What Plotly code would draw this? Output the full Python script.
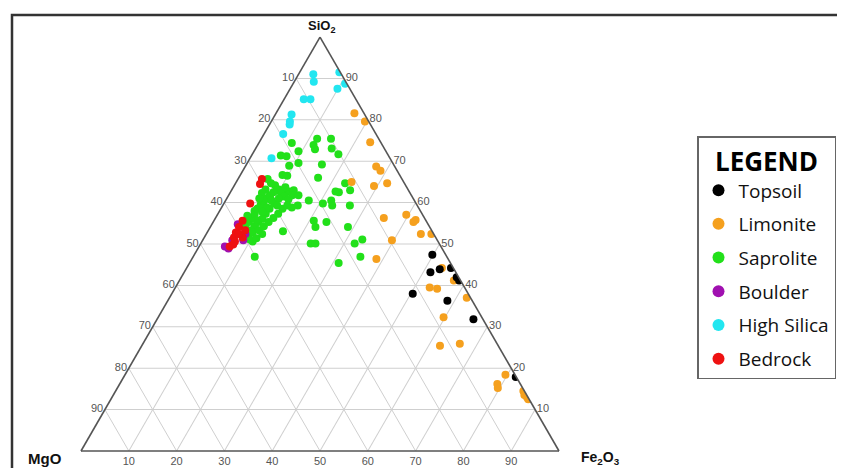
import plotly.graph_objects as go

# ---------------- data (weight %) ----------------
topsoil_sio2 = [47.4, 43.2, 43.9, 44.2, 42.0, 41.2, 38.0, 36.3, 31.8, 17.9]
topsoil_fe2o3 = [49.8, 51.5, 53.1, 55.3, 57.6, 58.5, 50.4, 58.5, 66.2, 82.0]

limonite_sio2 = [81.6, 79.6, 74.6, 68.7, 67.7, 64.0, 64.7, 65.0, 56.3, 57.1, 55.3, 55.8,
                 52.4, 52.4, 50.9, 46.4, 44.2, 41.2, 39.5, 39.2, 37.0, 32.3, 25.4, 25.9,
                 18.4, 16.2, 15.2, 14.5, 13.5, 13.0, 12.5]
limonite_fe2o3 = [16.4, 19.6, 23.2, 27.4, 28.8, 29.3, 31.7, 24.1, 35.2, 39.5, 41.9, 42.1,
                  44.9, 47.1, 39.6, 38.6, 53.4, 57.4, 53.2, 54.9, 62.2, 59.7, 62.4, 66.3,
                  79.6, 79.0, 79.6, 85.3, 86.0, 86.8, 87.3]

saprolite_sio2 = [75.4, 75.4, 74.4, 73.9, 73.1, 72.9, 72.4, 71.7, 71.4, 71.2, 69.6, 69.2,
                  68.9, 66.7, 66.5, 66.0, 64.7, 64.2, 63.2, 63.0, 62.7, 63.0, 62.7, 62.5,
                  63.0, 61.0, 61.8, 61.8, 60.5, 60.5, 59.8, 59.3, 59.3, 59.8, 58.0, 53.1,
                  55.6, 55.3, 54.1, 54.1, 50.1, 50.1, 50.1, 51.1, 46.9, 45.4, 50.6, 46.9,
                  54.3, 55.3, 56.3, 57.3, 58.5, 59.3, 60.3, 61.0, 61.8, 62.5, 63.0, 62.3,
                  61.5, 60.8, 59.8, 58.5, 57.3, 56.1, 55.3, 54.3, 53.3, 52.4, 52.8, 53.3,
                  54.3, 55.3, 56.3, 57.3, 58.5, 59.3, 58.8, 59.3, 51.1, 51.4, 52.4, 58.8,
                  60.5, 61.0, 63.7, 63.2, 62.3, 61.0, 64.7, 65.7, 56.8, 55.3, 55.8, 57.8,
                  59.3]
saprolite_fe2o3 = [11.7, 14.6, 6.9, 11.7, 15.9, 12.5, 9.3, 18.0, 6.1, 7.4, 10.7, 15.8,
                   9.1, 8.8, 9.9, 16.6, 22.9, 8.5, 9.8, 10.9, 12.2, 13.0, 21.9, 22.7,
                   24.8, 9.1, 13.3, 14.6, 17.4, 22.1, 20.7, 22.9, 26.6, 7.8, 7.3, 15.7,
                   20.9, 23.7, 22.0, 28.8, 23.0, 24.0, 32.2, 33.3, 35.0, 31.2, 10.6, 12.9,
                   7.2, 7.5, 7.6, 7.7, 7.6, 7.9, 8.1, 8.3, 8.6, 9.0, 9.5, 10.7,
                   11.8, 13.0, 10.5, 10.2, 10.0, 9.9, 9.4, 9.2, 8.9, 8.8, 9.5, 10.6,
                   11.1, 11.6, 12.1, 12.6, 12.9, 13.5, 14.7, 15.7, 9.8, 11.0, 11.7, 9.5,
                   9.6, 10.9, 10.9, 7.0, 6.7, 6.8, 7.4, 6.2, 6.4, 6.3, 8.8, 9.0,
                   11.4]

boulder_sio2 = [49.4, 48.9, 54.8, 52.4, 50.9, 50.9]
boulder_fe2o3 = [5.4, 6.4, 5.4, 8.2, 8.5, 6.2]

highsilica_sio2 = [91.0, 89.2, 91.5, 88.7, 87.5, 85.0, 85.0, 81.3, 79.6, 78.9, 76.6, 70.7]
highsilica_fe2o3 = [3.1, 4.1, 8.3, 10.9, 9.9, 4.1, 5.5, 3.4, 3.9, 4.2, 4.0, 4.5]

bedrock_sio2 = [65.7, 64.5, 59.8, 55.6, 54.1, 52.8, 51.6, 49.9, 49.4, 51.6, 52.4, 50.6, 53.3]
bedrock_fe2o3 = [5.0, 5.2, 5.5, 6.0, 6.0, 6.0, 6.2, 6.9, 6.4, 8.0, 6.8, 6.9, 7.7]

tick_values = [10, 20, 30, 40, 50, 60, 70, 80, 90]
tick_labels = ["90", "80", "70", "60", "50", "40", "30", "20", "10"]

# (name, sio2, fe2o3, colour, legend rank) in drawing order
series = [
    ("Saprolite", saprolite_sio2, saprolite_fe2o3, "#22E01A", 3),
    ("Limonite", limonite_sio2, limonite_fe2o3, "#F5A01E", 2),
    ("Topsoil", topsoil_sio2, topsoil_fe2o3, "#000000", 1),
    ("High Silica", highsilica_sio2, highsilica_fe2o3, "#22E6F0", 5),
    ("Boulder", boulder_sio2, boulder_fe2o3, "#A010B0", 4),
    ("Bedrock", bedrock_sio2, bedrock_fe2o3, "#EE1111", 6),
]

fig = go.Figure()
for name, si, fe, col, rank in series:
    mg = [max(0.0, 100.0 - s - f) for s, f in zip(si, fe)]
    fig.add_trace(go.Scatterternary(
        a=si, b=mg, c=fe, mode="markers", name=name,
        legendrank=rank, legendgroup=name,
        marker=dict(size=8, color=col, line=dict(width=0)),
    ))

# page body is offset by 8px; work in screen pixels and convert
OFF = 8
W, H = 845 - OFF, 468 - OFF


def px(sx):
    return (sx - OFF) / W


def py(sy):
    return 1 - (sy - OFF) / H


side = 478.0
hgt = side * 3 ** 0.5 / 2
cx = 320.0
base_y = 451.0

axis_common = dict(
    tickmode="array", tickvals=tick_values, ticktext=tick_labels,
    ticks="", showline=True, linecolor="#555555", linewidth=1.6,
    showgrid=True, gridcolor="#cfcfcf", gridwidth=1, color="#555555",
    tickfont=dict(family="Liberation Sans", size=11, color="#555555"),
    title=dict(text=""),
)

title_font = dict(family="Liberation Sans", color="#111111")

fig.update_layout(
    width=W, height=H,
    margin=dict(l=0, r=0, t=0, b=0),
    paper_bgcolor="white",
    ternary=dict(
        sum=100,
        bgcolor="white",
        domain=dict(x=[px(cx - side / 2), px(cx + side / 2)],
                    y=[py(base_y), py(base_y - hgt)]),
        aaxis=axis_common, baxis=axis_common, caxis=axis_common,
    ),
    annotations=[
        dict(text="<b>SiO<sub>2</sub></b>", x=px(321), y=py(27), xref="paper", yref="paper",
             showarrow=False, xanchor="center", yanchor="middle",
             font=dict(size=13, **title_font)),
        dict(text="<b>MgO</b>", x=px(45), y=py(458), xref="paper", yref="paper",
             showarrow=False, xanchor="center", yanchor="middle",
             font=dict(size=15, **title_font)),
        dict(text="<b>Fe<sub>2</sub>O<sub>3</sub></b>", x=px(600), y=py(458), xref="paper",
             yref="paper", showarrow=False, xanchor="center", yanchor="middle",
             font=dict(size=14, **title_font)),
    ],
    legend=dict(
        x=px(697), xanchor="left", y=py(136), yanchor="top",
        bgcolor="white", bordercolor="#666666", borderwidth=1.5,
        font=dict(family="Open Sans", size=19, color="#111"),
        title=dict(text="<b>LEGEND</b>", side="top center",
                   font=dict(family="Open Sans", size=26, color="#000")),
        itemsizing="constant", tracegroupgap=6,
    ),
    shapes=[dict(type="rect", xref="paper", yref="paper",
                 x0=px(12), x1=1.05, y0=-0.05, y1=py(15),
                 line=dict(color="#333333", width=2.5))],
    showlegend=True,
)

fig.write_html("out.html")
